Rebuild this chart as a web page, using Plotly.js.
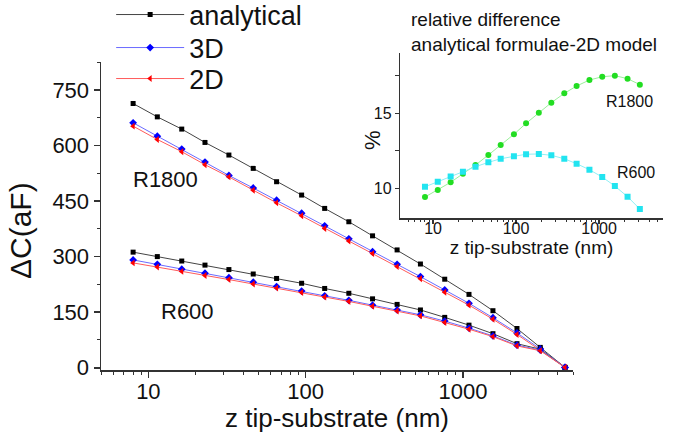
<!DOCTYPE html>
<html>
<head>
<meta charset="utf-8">
<script src="https://cdn.plot.ly/plotly-3.0.1.min.js"></script>
<style>html,body{margin:0;padding:0;background:#fff;}#chart{width:675px;height:433px;}</style>
</head>
<body>
<div id="chart"></div>
<script>
// tip-substrate distance (nm)
var zNm = [8, 11.4, 16.3, 22.9, 32.5, 46.4, 65.3, 94.2, 132, 188, 266, 381, 536, 765, 1091, 1549, 2202, 3096, 4446];

// R1800 capacitance (aF)
var r1800Analytical = [713, 677, 644, 608, 574, 538, 502, 466, 430, 394, 356, 318, 280, 239, 198, 154, 106, 55, 1];
var r1800_3D        = [661, 625, 590, 555, 519, 485, 452, 417, 383, 348, 313, 279, 246, 210, 174, 135, 94, 51, 1];
var r1800_2D        = [652, 616, 583, 548, 515, 479, 445, 410, 376, 342, 308, 273, 240, 204, 169, 131, 90, 47, 1];

// R600 capacitance (aF)
var r600Analytical = [312, 300, 288, 277, 265, 253, 241, 228, 214, 201, 186, 171, 156, 136, 115, 92, 65, 50, 1];
var r600_3D        = [291, 279, 266, 255, 243, 231, 219, 207, 194, 182, 169, 156, 143, 126, 107, 86, 61, 48, 1];
var r600_2D        = [283, 272, 260, 249, 238, 226, 215, 203, 191, 179, 166, 153, 140, 122, 104, 84, 59, 46, 1];

// inset: relative difference analytical - 2D (%)
var zInset = [8, 11.4, 16.3, 22.9, 32.5, 46.4, 65.3, 94.2, 132, 188, 266, 381, 536, 765, 1091, 1549, 2202, 3096];
var relDiffR1800 = [9.42, 9.89, 10.4, 10.97, 11.55, 12.22, 12.89, 13.6, 14.33, 15.04, 15.71, 16.33, 16.82, 17.22, 17.44, 17.51, 17.31, 16.91];
var relDiffR600  = [10.1, 10.44, 10.78, 11.11, 11.44, 11.73, 11.97, 12.13, 12.27, 12.29, 12.2, 11.97, 11.64, 11.24, 10.75, 10.15, 9.44, 8.62];

var seriesNames = ['analytical', '3D', '2D'];
var tickValsMain = [10, 100, 1000];
var tickTextMain = ['10', '100', '1000'];
var minorTickVals = [5,6,7,8,9,20,30,40,50,60,70,80,90,200,300,400,500,600,700,800,900,2000,3000,4000,5000];

var FONT = 'Arial, "Liberation Sans", Helvetica, sans-serif';
var cBlack = '#000000', cBlue = '#0000ff', cRed = '#ff0000';

function tr(y, name, color, lineColor, symbol, size, show, leg) {
  return {x: zNm, y: y, type: 'scatter', mode: 'lines+markers', name: name,
    legendgroup: name, showlegend: show, legend: leg,
    line: {color: lineColor, width: 1},
    marker: {color: color, symbol: symbol, size: size, line: {width: 0}},
    xaxis: 'x', yaxis: 'y'};
}

var data = [
  tr(r1800Analytical, seriesNames[0], cBlack, '#444', 'square', 5, true, 'legend'),
  tr(r1800_3D, seriesNames[1], cBlue, '#6b6bff', 'diamond', 6, true, 'legend2'),
  tr(r1800_2D, seriesNames[2], cRed, '#ff5a5a', 'triangle-left', 6, true, 'legend3'),
  tr(r600Analytical, seriesNames[0], cBlack, '#444', 'square', 5, false, 'legend'),
  tr(r600_3D, seriesNames[1], cBlue, '#6b6bff', 'diamond', 6, false, 'legend2'),
  tr(r600_2D, seriesNames[2], cRed, '#ff5a5a', 'triangle-left', 6, false, 'legend3'),
  {x: zInset, y: relDiffR1800, type: 'scatter', mode: 'lines+markers', showlegend: false,
   line: {color: '#9af09a', width: 1}, marker: {color: '#22dd22', symbol: 'circle', size: 6},
   xaxis: 'x2', yaxis: 'y2'},
  {x: zInset, y: relDiffR600, type: 'scatter', mode: 'lines+markers', showlegend: false,
   line: {color: '#8ff0f5', width: 1}, marker: {color: '#22e4f0', symbol: 'square', size: 6},
   xaxis: 'x2', yaxis: 'y2'}
];

var axCommon = {showgrid: false, zeroline: false, showline: true, linecolor: '#333', linewidth: 1.5,
  ticks: 'outside', tickcolor: '#333', tickwidth: 1.5, color: '#111', automargin: false};

function leg(yc) {
  return {x: 0.018, y: yc, xanchor: 'left', yanchor: 'middle', font: {size: 27, family: FONT, color: '#111'},
    bgcolor: 'rgba(0,0,0,0)', itemwidth: 68, tracegroupgap: 0};
}

var layout = {
  width: 675, height: 433,
  margin: {l: 101, r: 10, t: 0, b: 63, pad: 0, autoexpand: false},
  paper_bgcolor: '#fff', plot_bgcolor: 'rgba(0,0,0,0)',
  font: {family: FONT, color: '#111'},
  showlegend: true,
  legend: leg(0.9595),
  legend2: leg(0.8703),
  legend3: leg(0.7865),
  xaxis: Object.assign({}, axCommon, {type: 'log', range: [Math.log10(5), Math.log10(5000)], domain: [0, 0.8369],
    anchor: 'y', tickvals: tickValsMain, ticktext: tickTextMain, ticklen: 6, tickfont: {size: 22, family: FONT},
    ticklabelstandoff: -5,
    minor: {ticks: 'outside', ticklen: 3, tickcolor: '#333', tickwidth: 1, tickvals: minorTickVals},
    title: {text: 'z tip-substrate (nm)', font: {size: 26, family: FONT, color: '#111'}, standoff: 10}}),
  yaxis: Object.assign({}, axCommon, {range: [-6, 825], domain: [0, 0.8324], anchor: 'x', tick0: 0, dtick: 150,
    ticklen: 6, tickfont: {size: 22, family: FONT},
    minor: {ticks: 'outside', ticklen: 3, tickcolor: '#333', tickwidth: 1, dtick: 75}}),
  xaxis2: Object.assign({}, axCommon, {type: 'log', range: [0.602, 3.77], domain: [0.5301, 0.9965], anchor: 'y2',
    tickvals: tickValsMain, ticktext: tickTextMain, ticklen: 4, linewidth: 1.2, tickwidth: 1.2, tickfont: {size: 16, family: FONT},
    ticklabelstandoff: -9,
    minor: {ticks: 'outside', ticklen: 2, tickcolor: '#333', tickwidth: 1, tickvals: minorTickVals},
    title: {text: 'z tip-substrate (nm)', font: {size: 19, family: FONT, color: '#111'}, standoff: 3}}),
  yaxis2: Object.assign({}, axCommon, {range: [8, 19], domain: [0.41, 0.8559], anchor: 'x2', tick0: 10, dtick: 5,
    ticklen: 4, linewidth: 1.2, tickwidth: 1.2, tickfont: {size: 16, family: FONT},
    minor: {ticks: 'outside', ticklen: 4, tickcolor: '#333', tickwidth: 1, dtick: 2.5}}),
  annotations: [
    {xref: 'paper', yref: 'paper', x: -0.1418, y: 0.3757, text: 'ΔC(aF)', textangle: -90, showarrow: false,
     font: {size: 30, family: FONT, color: '#111'}, xanchor: 'center', yanchor: 'middle'},
    {xref: 'paper', yref: 'paper', x: 0.4805, y: 0.6216, text: '%', textangle: -90, showarrow: false,
     font: {size: 22, family: FONT, color: '#111'}, xanchor: 'center', yanchor: 'middle'},
    {xref: 'x', yref: 'y', x: 1.106, y: 507, text: 'R1800', showarrow: false, font: {size: 22, family: FONT, color: '#111'}},
    {xref: 'x', yref: 'y', x: 1.249, y: 151, text: 'R600', showarrow: false, font: {size: 22, family: FONT, color: '#111'}},
    {xref: 'x2', yref: 'y2', x: 3.361, y: 15.77, text: 'R1800', showarrow: false, font: {size: 16, family: FONT, color: '#111'}},
    {xref: 'x2', yref: 'y2', x: 3.44, y: 11.04, text: 'R600', showarrow: false, font: {size: 16, family: FONT, color: '#111'}},
    {xref: 'paper', yref: 'paper', x: 0.546, y: 0.981, xanchor: 'left', yanchor: 'top', align: 'left', showarrow: false,
     text: 'relative difference<br>analytical formulae-2D model', font: {size: 19, family: FONT, color: '#111'}}
  ]
};

Plotly.newPlot('chart', data, layout, {displayModeBar: false, staticPlot: true});
</script>
</body>
</html>
